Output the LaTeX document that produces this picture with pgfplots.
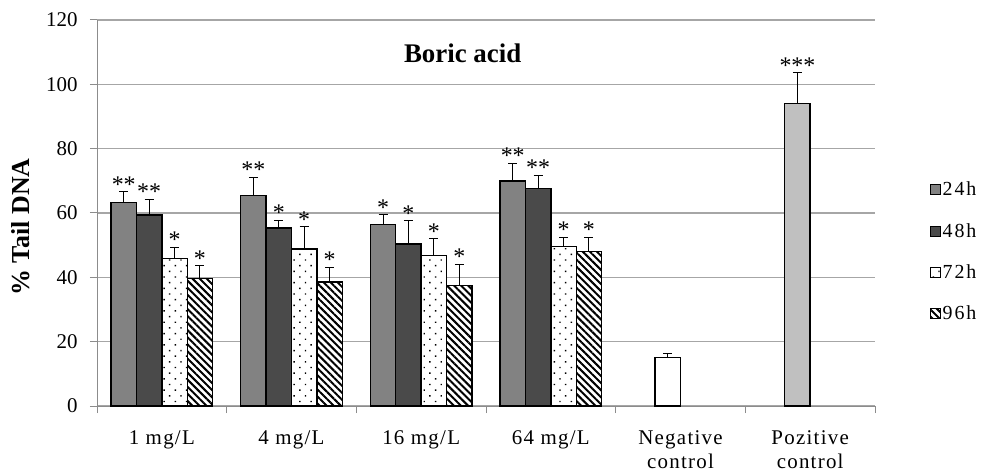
\documentclass[border=0pt]{standalone}
\usepackage{fontspec}
\setmainfont{Liberation Serif}
\usepackage{pgfplots}
\pgfplotsset{compat=1.18}
\usepackage{pgfplotstable}
\usetikzlibrary{patterns.meta}

\pgfplotstableread{
x v24 e24 v48 e48 v72 e72 v96 e96
0 63.3 3.3 59.4 4.9 45.9 3.4 39.7 3.9
1 65.5 5.6 55.3 2.5 48.8 6.9 38.5 4.6
2 56.5 2.9 50.3 7.3 46.8 5.2 37.5 6.5
3 69.9 5.6 67.7 3.9 49.5 3.0 48.1 4.4
}\datatable

\pgfplotstableread{
x y s
-0.294 66.6 **
-0.098 64.3 **
0.098 49.3 *
0.294 43.6 *
0.706 71.1 **
0.902 57.8 *
1.098 55.7 *
1.294 43.1 *
1.706 59.4 *
1.902 57.6 *
2.098 52.0 *
2.294 44.0 *
2.706 75.5 **
2.902 71.6 **
3.098 52.5 *
3.294 52.5 *
4.902 103.6 ***
}\startable

\definecolor{gridgray}{HTML}{A6A6A6}
\definecolor{axgray}{HTML}{8C8C8C}
\definecolor{dark48}{HTML}{4A4A4A}
\definecolor{poscol}{HTML}{C0C0C0}

\begin{document}
\begin{tikzpicture}
\begin{axis}[
  at={(97bp,69bp)}, anchor=south west,
  scale only axis, width=778bp, height=386bp,
  xmin=-0.5, xmax=5.5, ymin=0, ymax=120,
  clip=false,
  /pgf/number format/assume math mode=true,
  axis x line*=bottom, axis y line*=left,
  axis line style={draw=axgray, line width=1bp, -},
  ytick={0,20,...,120},
  ymajorgrids, grid style={gridgray, line width=1.3bp},
  major tick style={axgray, line width=1bp},
  tick align=outside,
  major tick length=7bp,
  xtick={-0.5,0.5,...,5.5},
  xticklabels={},
  extra x ticks={0,1,2,3,4,5},
  extra x tick labels={1 mg/L, 4 mg/L, 16 mg/L, 64 mg/L, {Negative\\control}, {Pozitive\\control}},
  extra x tick style={major tick length=0pt, grid=none},
  xticklabel style={align=center, font=\fontsize{21}{24.5}\selectfont\addfontfeatures{LetterSpace=6}, yshift=-21bp},
  yticklabel style={font=\fontsize{21}{24}\selectfont, xshift=-9bp},
  ylabel={\% Tail DNA},
  ylabel style={at={(rel axis cs:-0.0977,0.4637)}, anchor=center, font=\bfseries\fontsize{26}{30}\selectfont},
  title={Boric acid},
  title style={at={(rel axis cs:0.47,0.898)}, anchor=center, font=\bfseries\fontsize{27}{30}\selectfont},
  legend style={at={(rel axis cs:1.071,0.40)}, anchor=west, draw=none, fill=none,
    font=\fontsize{20}{22}\selectfont\addfontfeatures{LetterSpace=10}, row sep=23bp, inner sep=0pt,
    nodes={inner sep=1.5bp}},
  legend cell align=left,
  legend image code/.code={\draw[#1, line width=0.6bp] (0bp,-5bp) rectangle (10bp,5bp);},
  every axis plot/.append style={line width=1.4bp},
  error bars/y dir=plus, error bars/y explicit,
  error bars/error mark options={rotate=90, mark size=4.5bp, line width=1bp, black},
  error bars/error bar style={line width=1bp, black},
]
\addplot[ybar, bar width=25.4bp, bar shift=0pt, draw=black, fill=black!38,
  postaction={pattern={Dots[distance=2bp, radius=0.55bp]}, pattern color=black!85}]
  table[x expr=\thisrow{x}-0.294, y=v24, y error=e24] {\datatable};
\addlegendentry{24h}
\addplot[ybar, bar width=25.4bp, bar shift=0pt, draw=black, fill=dark48]
  table[x expr=\thisrow{x}-0.098, y=v48, y error=e48] {\datatable};
\addlegendentry{48h}
\addplot[ybar, bar width=25.4bp, bar shift=0pt, draw=black, fill=white,
  postaction={pattern={Dots[distance=8bp, angle=45, radius=1bp]}, pattern color=black}]
  table[x expr=\thisrow{x}+0.098, y=v72, y error=e72] {\datatable};
\addlegendentry{72h}
\addplot[ybar, bar width=25.4bp, bar shift=0pt, draw=black, fill=white,
  postaction={pattern={Lines[angle=-45, distance=5bp, line width=2bp]}, pattern color=black}]
  table[x expr=\thisrow{x}+0.294, y=v96, y error=e96] {\datatable};
\addlegendentry{96h}
\addplot[ybar, bar width=25.4bp, bar shift=0pt, draw=black, fill=white, forget plot]
  coordinates {(3.902,15.0) +- (0,1.2)};
\addplot[ybar, bar width=25.4bp, bar shift=0pt, draw=black, fill=poscol, forget plot]
  coordinates {(4.902,94.1) +- (0,9.5)};
\addplot[draw=none, mark=none, forget plot, nodes near coords, point meta=explicit symbolic,
  nodes near coords style={font=\fontsize{24}{24}\selectfont, anchor=south, inner sep=0pt, yshift=-1bp}]
  table[x=x, y=y, meta=s] {\startable};
\end{axis}
\pgfresetboundingbox
\path (0,0) rectangle (1001bp,475bp);
\end{tikzpicture}
\end{document}
